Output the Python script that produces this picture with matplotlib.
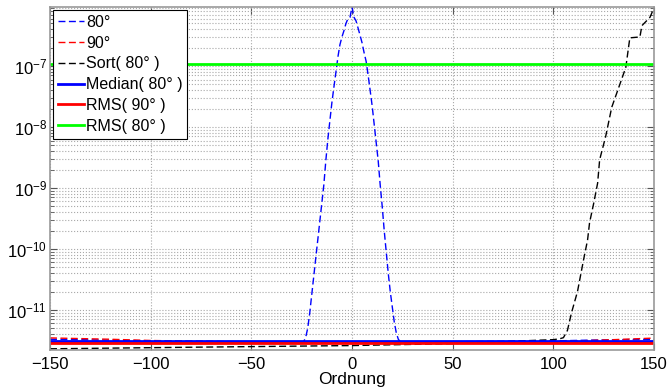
import numpy as np
import matplotlib
matplotlib.use("Agg")
import matplotlib.pyplot as plt
from matplotlib.ticker import LogLocator, NullFormatter, MultipleLocator

plt.rcParams.update({
    "font.family": ["Liberation Sans", "DejaVu Sans"],
    "mathtext.default": "regular",
    "font.size": 12,
})

# --- data ---
# 80 deg: flat floor with a sharp peak around order 0
x_80 = [-150, -120, -100, -70, -50, -30,
        -25, -24, -23, -22, -21, -20, -19, -18, -17, -16, -15, -14, -13,
        -12, -11, -10, -9, -8, -7, -6, -5, -4, -3, -2, -1, 0,
        1, 2, 3, 4, 5, 6, 7, 8, 9, 10, 11, 12, 13, 14, 15, 16, 17, 18,
        19, 20, 21, 22, 23, 24, 25,
        30, 50, 70, 100, 120, 150]
y_80 = [3.3e-12, 3.2e-12, 3.1e-12, 3.05e-12, 3.0e-12, 2.95e-12,
        2.82e-12, 3.02e-12, 3.55e-12, 5.0e-12, 8.9e-12, 1.78e-11, 3.55e-11,
        7.1e-11, 1.41e-10, 2.82e-10, 5.6e-10, 1.12e-9, 2.82e-9,
        6.3e-9, 1.26e-8, 2.5e-8, 4.5e-8, 7.9e-8, 1.41e-7, 2.24e-7,
        3.0e-7, 3.8e-7, 5.0e-7, 6.0e-7, 6.3e-7, 9.3e-7,
        6.3e-7, 5.5e-7, 4.2e-7, 3.2e-7, 2.4e-7, 1.66e-7, 1.2e-7, 7.1e-8,
        4.0e-8, 2.24e-8, 1.12e-8, 5.6e-9, 2.82e-9, 1.12e-9, 5.0e-10,
        2.0e-10, 8.9e-11, 4.0e-11, 2.0e-11, 1.12e-11, 6.3e-12, 4.2e-12,
        3.3e-12, 3.0e-12, 2.82e-12,
        2.95e-12, 3.0e-12, 3.05e-12, 3.1e-12, 3.2e-12, 3.3e-12]

# 90 deg: flat floor
x_90 = [-150, -120, -100, -50, 0, 50, 100, 130, 150]
y_90 = [3.47e-12, 3.3e-12, 3.15e-12, 2.95e-12, 2.82e-12, 2.88e-12,
        3.0e-12, 3.25e-12, 3.45e-12]

# sorted 80 deg values
x_sort = [-150, -100, -50, 0, 50, 100, 103, 105, 107, 109, 112, 115, 117,
          118, 120, 122, 123, 126, 129, 136, 138, 143, 144, 148, 150]
y_sort = [2.3e-12, 2.4e-12, 2.5e-12, 2.6e-12, 2.8e-12, 3.25e-12, 3.35e-12,
          3.5e-12, 4.6e-12, 8.9e-12, 2.0e-11, 6.6e-11, 1.4e-10, 2.7e-10,
          5.5e-10, 1.2e-9, 2.9e-9, 7.0e-9, 2.1e-8, 9.5e-8, 2.9e-7, 3.0e-7,
          4.6e-7, 6.3e-7, 9.0e-7]

median_80 = 3.13e-12
rms_90 = 2.82e-12
rms_80 = 1.08e-7
x_range = [-150, 150]
y_major = [1e-11, 1e-10, 1e-9, 1e-8, 1e-7]

fig = plt.figure(figsize=(6.67, 3.89), dpi=100)
ax = fig.add_axes([0.075, 0.1003, 0.9055, 0.8817])

dash = (5, 2.5)
ax.plot(x_80, y_80, color="b", lw=1.0, dashes=dash, label="80°")
ax.plot(x_90, y_90, color="r", lw=1.0, dashes=dash, label="90°")
ax.plot(x_sort, y_sort, color="k", lw=1.0, dashes=dash, label="Sort( 80° )")
ax.plot(x_range, [median_80] * 2, color="b", lw=2.0, label="Median( 80° )")
ax.plot(x_range, [rms_90] * 2, color="r", lw=2.0, label="RMS( 90° )")
ax.plot(x_range, [rms_80] * 2, color="#00ff00", lw=2.0, label="RMS( 80° )")

ax.set_yscale("log")
ax.set_xlim(-150, 150)
ax.set_ylim(2.2e-12, 9.3e-7)
ax.xaxis.set_major_locator(MultipleLocator(50))
ax.set_yticks(y_major)
ax.yaxis.set_minor_locator(LogLocator(base=10, subs=np.arange(2, 10), numticks=20))
ax.yaxis.set_minor_formatter(NullFormatter())

ax.grid(True, which="major", color="#a8a8a8", ls=":", lw=0.8)
ax.grid(True, which="minor", axis="y", color="#a8a8a8", ls=":", lw=0.8)

ax.tick_params(which="both", direction="in", top=True, right=True,
               color="#555555", labelsize=12)
ax.tick_params(which="major", length=5)
ax.tick_params(which="minor", length=3)
ax.tick_params(axis="x", pad=5)
ax.tick_params(axis="y", pad=2)
for s in ax.spines.values():
    s.set_color("#999999")
    s.set_linewidth(1.2)

ax.set_xlabel("Ordnung", fontsize=12.5, labelpad=0)

leg = ax.legend(loc="upper left", fontsize=11.5, handlelength=1.6,
                handletextpad=0.15, labelspacing=0.36, borderaxespad=0.2,
                borderpad=0.3, fancybox=False, framealpha=1)
leg.get_frame().set_edgecolor("black")
leg.get_frame().set_linewidth(0.8)

fig.savefig("out.png", dpi=100)
